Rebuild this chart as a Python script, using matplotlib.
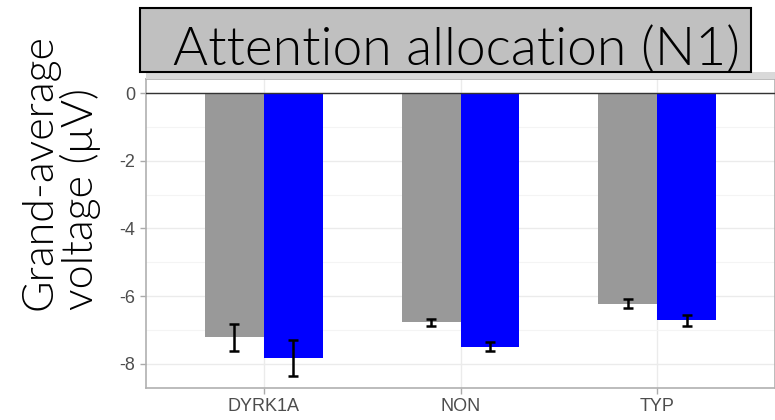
import matplotlib
matplotlib.use('Agg')
import matplotlib.pyplot as plt
import numpy as np
from matplotlib.patches import Rectangle

groups = ["DYRK1A", "NON", "TYP"]
grey_means = [-7.22, -6.78, -6.22]
grey_se = [0.39, 0.115, 0.135]
blue_means = [-7.83, -7.50, -6.72]
blue_se = [0.52, 0.135, 0.155]
yticks = [0, -2, -4, -6, -8]

fig = plt.figure(figsize=(7.75, 4.2), dpi=100)
ax = fig.add_axes([0.1884, 0.0762, 0.8116, 0.7358])

x = np.arange(1, len(groups) + 1)
w = 0.3

# grid first so bars sit above it
ax.set_axisbelow(True)
ax.set_yticks([-1, -3, -5, -7], minor=True)
ax.grid(which="major", color="#EBEBEB", linewidth=1.0)
ax.grid(which="minor", axis="y", color="#F4F4F4", linewidth=0.8)

ax.bar(x - w / 2, grey_means, width=w, color="#999999", zorder=2)
ax.bar(x + w / 2, blue_means, width=w, color="#0000FF", zorder=2)
ax.errorbar(x - w / 2, grey_means, yerr=grey_se, fmt="none", ecolor="black",
            elinewidth=1.8, capsize=3.5, capthick=1.8, zorder=3)
ax.errorbar(x + w / 2, blue_means, yerr=blue_se, fmt="none", ecolor="black",
            elinewidth=1.8, capsize=3.5, capthick=1.8, zorder=3)
ax.axhline(0, color="#333333", linewidth=1.0, zorder=4)

ax.set_xlim(0.4, 3.6)
ax.set_ylim(-8.715, 0.415)
ax.set_xticks(x)
ax.set_xticklabels(groups)
ax.set_yticks(yticks)
ax.set_yticklabels([str(v) for v in yticks])
ax.tick_params(axis="both", which="major", colors="#AAAAAA", labelcolor="#4D4D4D",
               labelsize=13, length=4, width=1)
ax.tick_params(axis="y", which="minor", length=0)
for lbl in ax.get_xticklabels() + ax.get_yticklabels():
    lbl.set_fontfamily("Liberation Sans")
for side in ["left", "bottom", "top", "right"]:
    ax.spines[side].set_color("#B0B0B0")
    ax.spines[side].set_linewidth(1.2)

# two-line y title, lines start at the same point
fig.text(0.078, 0.262, "Grand-average\nvoltage (μV)", rotation=90,
         ha="center", va="bottom", multialignment="left",
         fontsize=31, family="Lato", fontweight=300, color="black",
         linespacing=1.0)

# facet strip behind the title box
fig.add_artist(Rectangle((0.1884, 0.812), 0.8116, 0.017, transform=fig.transFigure,
                         facecolor="#D9D9D9", edgecolor="none"))
fig.add_artist(Rectangle((0.1806, 0.829), 0.789, 0.152, transform=fig.transFigure,
                         facecolor="#C0C0C0", edgecolor="black", linewidth=1.5))
fig.text(0.589, 0.845, "Attention allocation (N1)", ha="center", va="baseline",
         fontsize=38.5, family="Lato", fontweight=300, color="black")

fig.savefig("out.png", dpi=100)
